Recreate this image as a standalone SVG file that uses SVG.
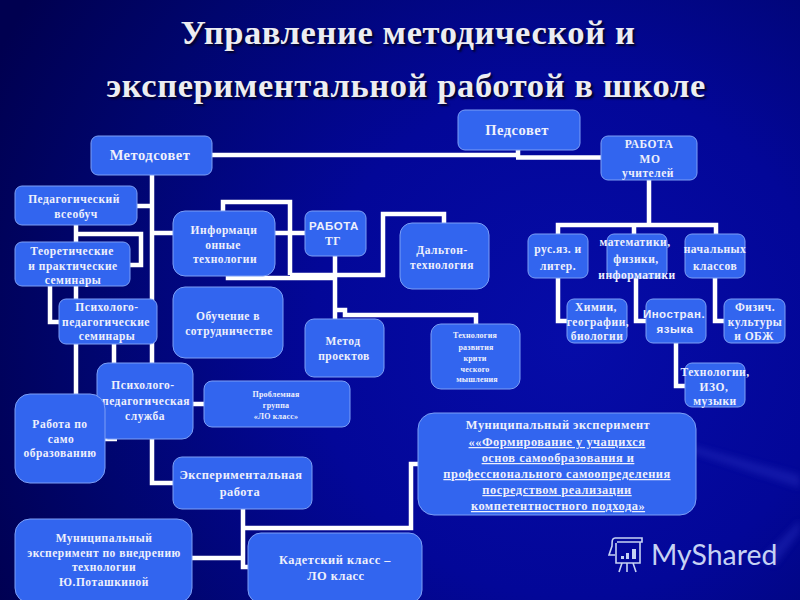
<svg xmlns="http://www.w3.org/2000/svg" width="800" height="600" viewBox="0 0 800 600">
<defs>
<radialGradient id="bg" gradientUnits="userSpaceOnUse" cx="570" cy="340" r="640">
<stop offset="0" stop-color="#060ca8"/><stop offset="0.4" stop-color="#030798"/><stop offset="0.75" stop-color="#00056e"/><stop offset="1" stop-color="#000050"/>
</radialGradient>
<filter id="soft" x="-5%" y="-5%" width="110%" height="110%"><feGaussianBlur stdDeviation="0.35"/></filter>
<filter id="ray" x="-10%" y="-50%" width="120%" height="200%"><feGaussianBlur stdDeviation="3"/></filter>
</defs>
<style>
.n{fill:#3265ef;stroke:#7c9ff6;stroke-width:1}
.t{font-family:"Liberation Serif",serif;font-weight:bold;font-size:11.5px;fill:#eef0fc;text-anchor:middle;letter-spacing:.5px}
.m{font-size:14.5px}
.l{font-size:12.4px}
.s{font-size:8px;letter-spacing:.2px}
.a{font-family:"Liberation Sans",sans-serif}
.u{text-decoration:underline}
.c{fill:none;stroke:#fff;stroke-width:4.5}
.h{font-family:"Liberation Serif",serif;font-weight:bold;font-size:34.5px;text-anchor:middle;letter-spacing:.6px;fill:#ecedf2;text-shadow:2px 2px 2px #04042a}
.wm{fill:none;stroke:#c6d2f4;stroke-width:1.6}
</style>
<rect width="800" height="600" fill="url(#bg)"/>
<g filter="url(#ray)" fill="#2a32c0" opacity="0.4">
<polygon points="690,445 800,475 800,488 690,452"/>
<polygon points="760,560 800,520 800,532 775,565"/>
</g>
<text class="h" x="408" y="44">Управление методической и</text>
<text class="h" x="406" y="97">экспериментальной работой в школе</text>
<g id="connectors" class="c" filter="url(#soft)">
<path d="M212 155H518M518 150V157.500M516 157.500H601"/>
<path d="M152 175V363"/>
<path d="M137 206H152M152 233H173"/>
<path d="M76 225V242M76 234H141V265H130"/>
<path d="M76 286V299M50 286V322H59"/>
<path d="M76 344V394M114 344V363"/>
<path d="M223 211V202H290V275M275 233H305"/>
<path d="M290 275H383V214H444V223"/>
<path d="M228 276V278H335M335 256V319"/>
<path d="M335 310H345V315H476V324"/>
<path d="M152 439V483H173M193 404H204M105 439H117"/>
<path d="M243 509V567H248M243 528H411V464H418M192 558H243"/>
<path d="M649 180V225M558 234V225H716V234M634 225V234"/>
<path d="M558 278V321H567M636 278V321H646M715 278V321H724M676 343V386H685"/>
</g>
<g id="metodsovet"><rect class="n" x="91" y="136" width="121" height="39" rx="7"/><text class="t m" x="150" y="160">Методсовет</text></g>
<g id="pedvseobuch"><rect class="n" x="15" y="186" width="122" height="39" rx="7"/><text class="t" x="74" y="203">Педагогический</text><text class="t" x="76" y="218">всеобуч</text></g>
<g id="teor"><rect class="n" x="15" y="242" width="115" height="44" rx="7"/><text class="t" x="72" y="255">Теоретические</text><text class="t" x="73" y="270">и практические</text><text class="t" x="73" y="284">семинары</text></g>
<g id="psem"><rect class="n" x="59" y="299" width="98" height="45" rx="7"/><text class="t" x="107" y="311">Психолого-</text><text class="t" x="106" y="326">педагогические</text><text class="t" x="107" y="340">семинары</text></g>
<g id="info"><rect class="n" x="173" y="211" width="102" height="65" rx="12"/><text class="t" x="224" y="234">Информаци</text><text class="t" x="223" y="249">онные</text><text class="t" x="225" y="263">технологии</text></g>
<g id="tg"><rect class="n" x="305" y="211" width="61" height="45" rx="7"/><text class="t a" x="334" y="230">РАБОТА</text><text class="t" x="333" y="245">ТГ</text></g>
<g id="sotr"><rect class="n" x="173" y="287" width="110" height="71" rx="12"/><text class="t" x="228" y="320">Обучение в</text><text class="t" x="229" y="335">сотрудничестве</text></g>
<g id="proekt"><rect class="n" x="305" y="319" width="79" height="58" rx="9"/><text class="t" x="343" y="345">Метод</text><text class="t" x="344" y="360">проектов</text></g>
<g id="dalton"><rect class="n" x="400" y="223" width="89" height="66" rx="12"/><text class="t" x="442" y="254">Дальтон-</text><text class="t" x="442" y="269">технология</text></g>
<g id="krit"><rect class="n" x="431" y="324" width="89" height="65" rx="10"/><text class="t s" x="475" y="338">Технология</text><text class="t s" x="476" y="350">развития</text><text class="t s" x="475" y="361">крити</text><text class="t s" x="475" y="372">ческого</text><text class="t s" x="477" y="382">мышления</text></g>
<g id="sluzhba"><rect class="n" x="97" y="363" width="96" height="76" rx="11"/><text class="t" x="143" y="389">Психолого-</text><text class="t" x="146" y="405">педагогическая</text><text class="t" x="145" y="420">служба</text></g>
<g id="problem"><rect class="n" x="204" y="381" width="146" height="46" rx="8"/><text class="t s" x="276" y="397">Проблемная</text><text class="t s" x="276" y="408">группа</text><text class="t s" x="276" y="419">«ЛО класс»</text></g>
<g id="samoobr"><rect class="n" x="15" y="394" width="90" height="89" rx="15"/><text class="t" x="60" y="428">Работа по</text><text class="t" x="61" y="443">само</text><text class="t" x="60" y="457">образованию</text></g>
<g id="eksp"><rect class="n" x="173" y="457" width="139" height="52" rx="9"/><text class="t l" x="241" y="479">Экспериментальная</text><text class="t l" x="240" y="496">работа</text></g>
<g id="munleft"><rect class="n" x="15" y="519" width="177" height="84" rx="15"/><text class="t" x="104" y="542">Муниципальный</text><text class="t" x="104" y="557">эксперимент по внедрению</text><text class="t" x="104" y="571">технологии</text><text class="t" x="104" y="586">Ю.Поташкиной</text></g>
<g id="kadet"><rect class="n" x="248" y="533" width="174" height="70" rx="13"/><text class="t l" x="335" y="564">Кадетский класс –</text><text class="t l" x="336" y="580">ЛО класс</text></g>
<g id="munright"><rect class="n" x="418" y="413" width="278" height="102" rx="16"/><text class="t l" x="558" y="429">Муниципальный эксперимент</text><text class="t l u" x="557" y="446">««Формирование у учащихся </text><text class="t l u" x="558" y="462">основ самообразования и </text><text class="t l u" x="557" y="478">профессионального самоопределения </text><text class="t l u" x="557" y="494">посредством реализации</text><text class="t l u" x="558" y="510"> компетентностного подхода»</text></g>
<g id="pedsovet"><rect class="n" x="458" y="110" width="122" height="40" rx="7"/><text class="t m" x="517" y="135">Педсовет</text></g>
<g id="mo"><rect class="n" x="601" y="136" width="96" height="44" rx="7"/><text class="t" x="649" y="148">РАБОТА</text><text class="t" x="650" y="163">МО</text><text class="t" x="648" y="177">учителей</text></g>
<g id="rus"><rect class="n" x="528" y="234" width="60" height="44" rx="7"/><text class="t" x="558" y="253">рус.яз. и</text><text class="t" x="558" y="270">литер.</text></g>
<g id="math"><rect class="n" x="607" y="234" width="60" height="44" rx="7"/><text class="t" x="635" y="246">математики,</text><text class="t" x="636" y="263">физики,</text><text class="t" x="637" y="279">информатики</text></g>
<g id="nach"><rect class="n" x="685" y="234" width="60" height="44" rx="7"/><text class="t" x="715" y="253">начальных</text><text class="t" x="715" y="270">классов</text></g>
<g id="him"><rect class="n" x="567" y="299" width="60" height="44" rx="7"/><text class="t" x="596" y="311">Химии,</text><text class="t" x="598" y="326">географии,</text><text class="t" x="597" y="340">биологии</text></g>
<g id="inostr"><rect class="n" x="646" y="299" width="60" height="44" rx="7"/><text class="t a" x="674" y="318">Иностран.</text><text class="t a" x="675" y="333">языка</text></g>
<g id="fiz"><rect class="n" x="724" y="299" width="61" height="44" rx="7"/><text class="t" x="755" y="311">Физич.</text><text class="t" x="755" y="326">культуры</text><text class="t" x="754" y="340">и ОБЖ</text></g>
<g id="tehn"><rect class="n" x="685" y="363" width="60" height="44" rx="7"/><text class="t" x="715" y="376">Технологии,</text><text class="t" x="714" y="391">ИЗО,</text><text class="t" x="715" y="405">музыки</text></g>
<g id="watermark">
<path class="wm" d="M615 538H642V542H617M615 538C612 538 612 541 612 546L609 555H615M616 543V563H640V542M619 572L622 563M627 572V563M636 572L633 563"/>
<path d="M621 559h3v-3h-3zM626 559h3v-6h-3zM632 559h4v-10h-4z" fill="#c6d2f4"/>
<text x="651" y="565" font-family="Lato,sans-serif" font-size="28.400" fill="#c6d2f4">MyShared</text>
</g>
</svg>
